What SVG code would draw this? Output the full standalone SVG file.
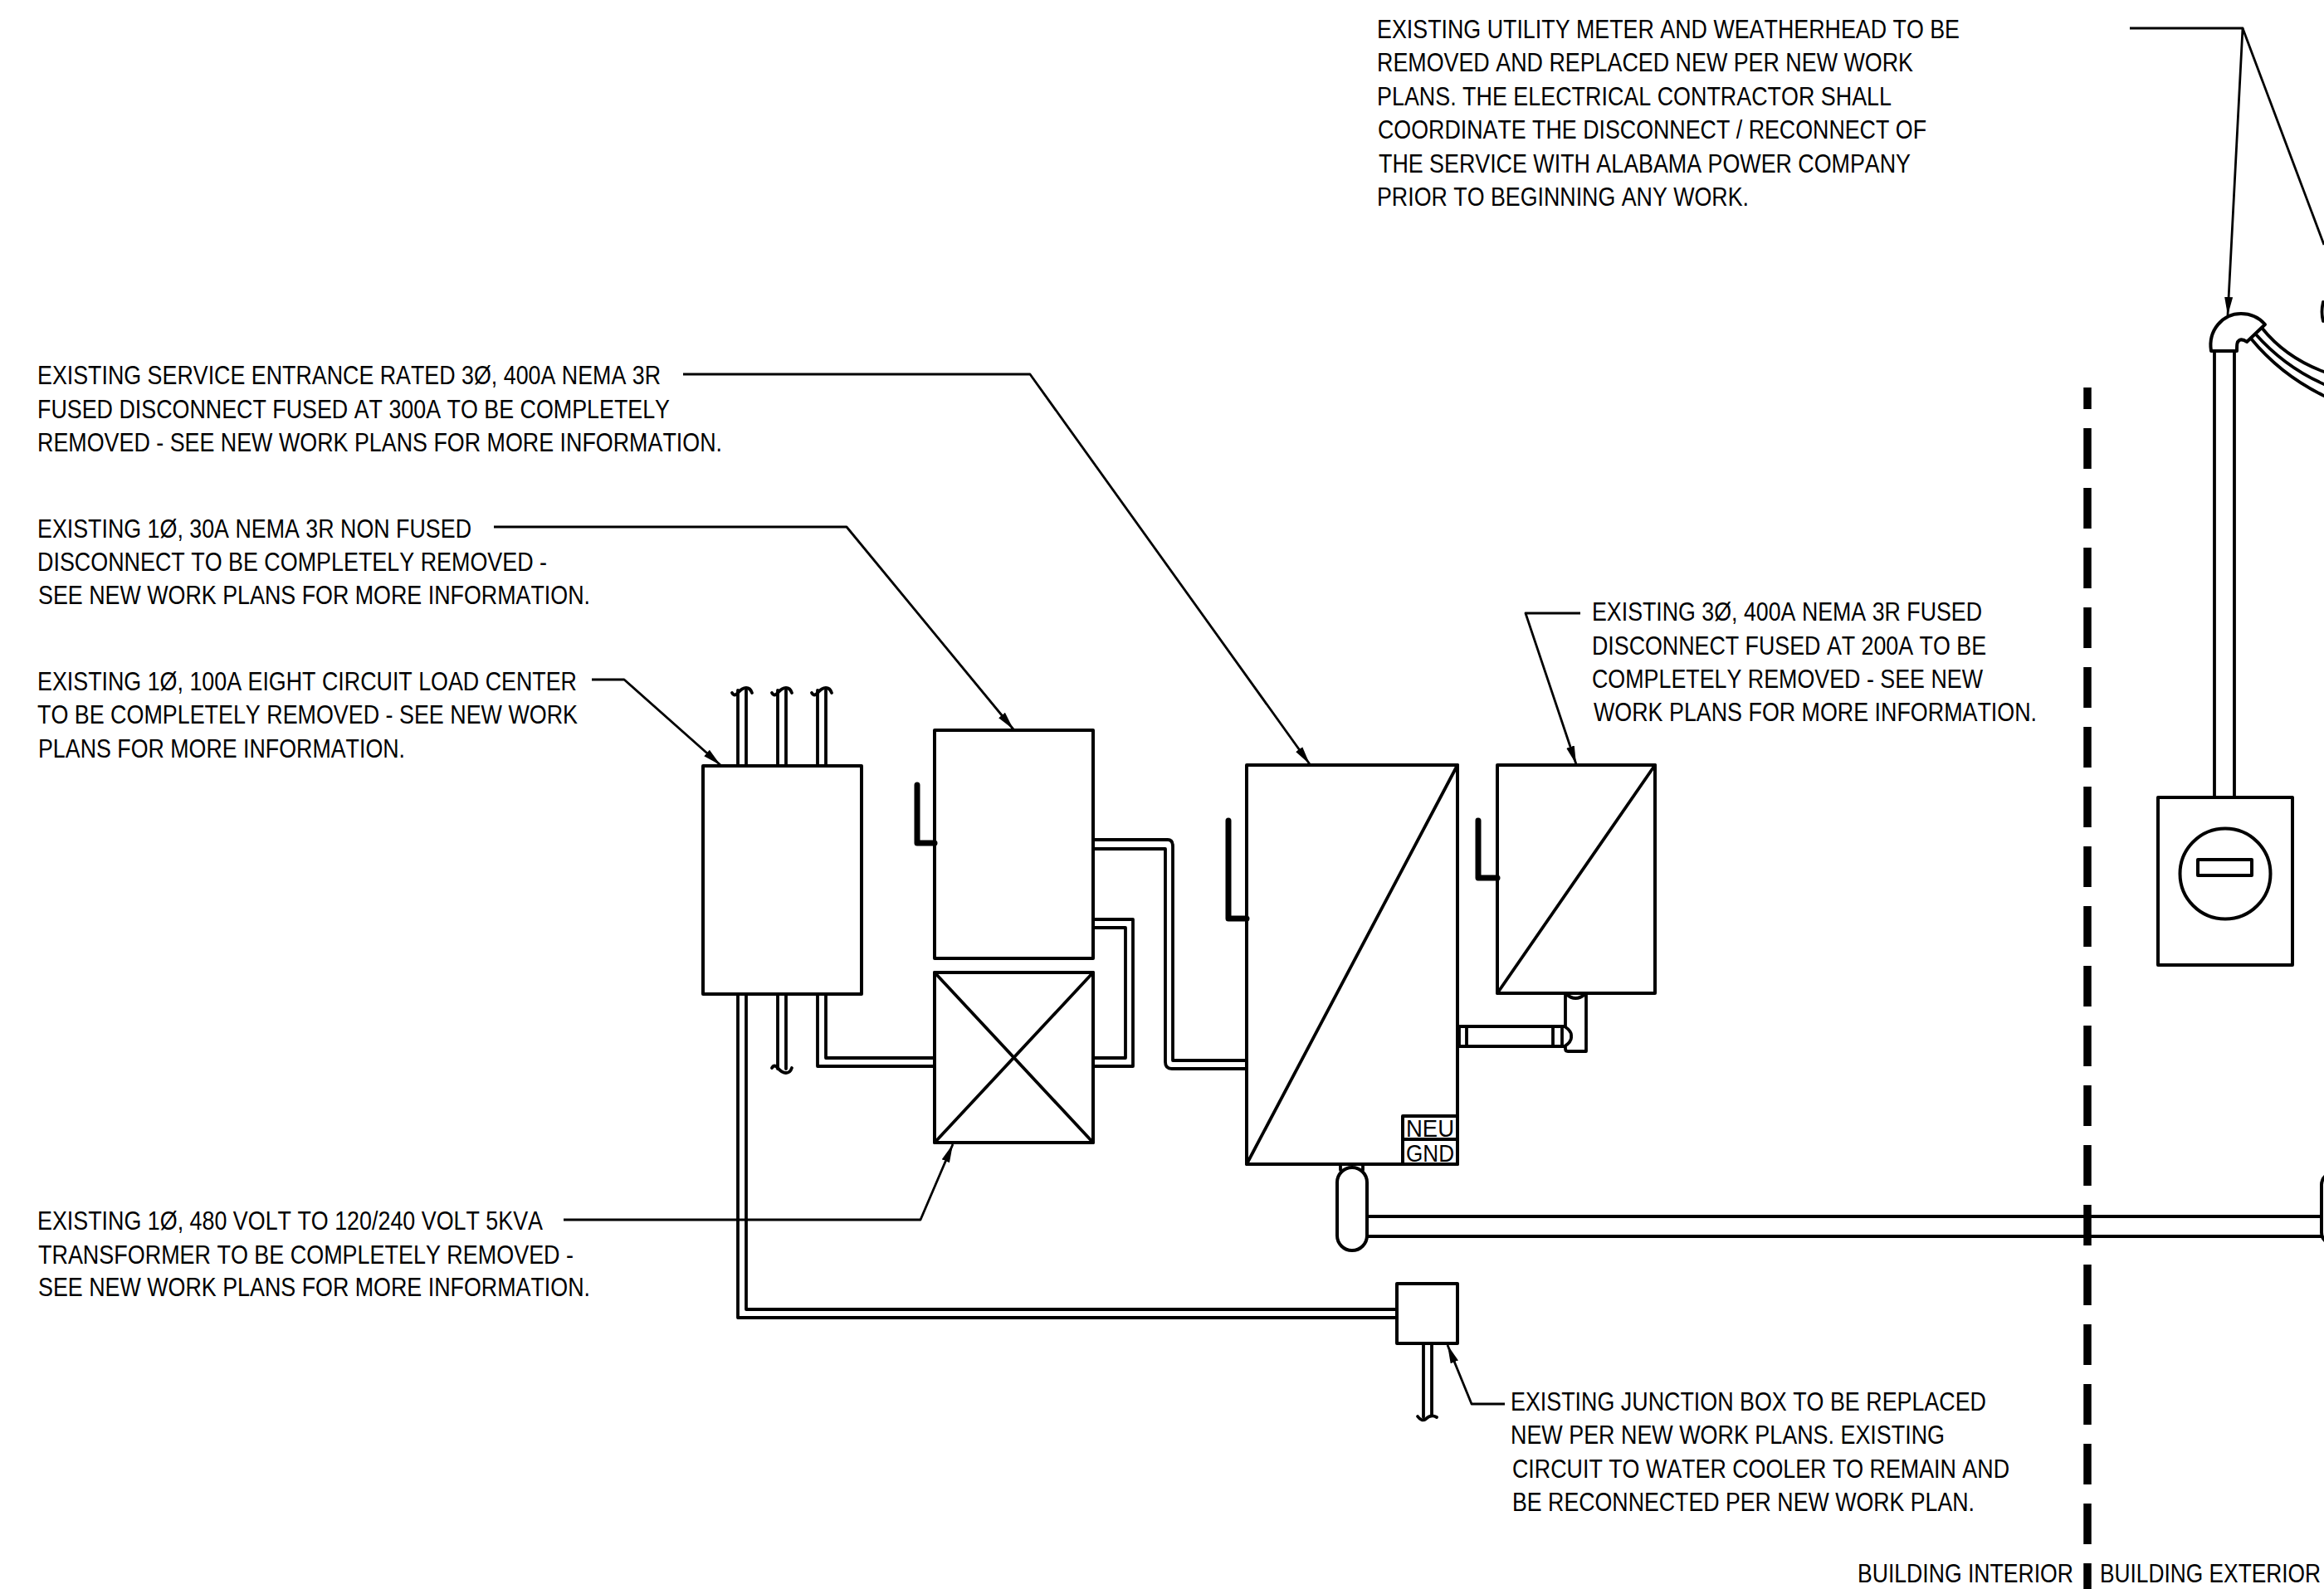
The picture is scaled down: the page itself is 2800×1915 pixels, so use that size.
<svg xmlns="http://www.w3.org/2000/svg" width="2800" height="1915" viewBox="0 0 2800 1915">
<style>
text{font-family:"Liberation Sans",Arial,sans-serif;font-size:32px;fill:#000;font-kerning:none}
.n{font-size:29px}
.b,.c,.l,.h{fill:none;stroke:#000;stroke-linejoin:round;stroke-linecap:round}
.b{stroke-width:4;fill:#fff}
.c{stroke-width:3.8}
.l{stroke-width:2.8;stroke-linecap:butt}
.h{stroke-width:7}
.a{marker-end:url(#arr)}
</style>
<defs>
<marker id="arr" markerUnits="userSpaceOnUse" markerWidth="26" markerHeight="12" refX="22" refY="6" orient="auto"><path d="M0,1L22,6L0,11Z" fill="#000"/></marker>
</defs>
<rect width="2800" height="1915" fill="#fff"/>
<g id="connectors">
<path class="l a" d="M823,451H1241L1578,921"/>
<path class="l a" d="M595,635H1020L1221,879"/>
<path class="l a" d="M713,819H752L868,922"/>
<path class="l a" d="M679,1470H1109L1148,1379"/>
<path class="l a" d="M1904,739H1838L1899,921"/>
<path class="l a" d="M1813,1692H1773L1744,1621"/>
<path class="l a" d="M2566,34H2702L2684,380"/>
<path class="l" d="M2702,34L2800,295"/>
<g id="conduits">
<path class="c" d="M889,923V832M899,923V832M937,923V832M947,923V832M985,923V832M995,923V832"/>
<path class="c" d="M882,835Q885,840 889,835Q894,829 899,829Q904,829 906,835M930,835Q933,840 937,835Q942,829 947,829Q952,829 954,835M978,835Q981,840 985,835Q990,829 995,829Q1000,829 1002,835"/>
<path class="c" d="M889,1198V1588H1683M899,1198V1578H1683"/>
<path class="c" d="M937,1198V1288M947,1198V1288"/>
<path class="c" d="M930,1287Q933,1282 937,1287Q942,1293 947,1293Q952,1293 954,1287"/>
<path class="c" d="M985,1198V1285H1126M995,1198V1275H1126"/>
<path class="c" d="M1317,1275H1356V1118H1317M1317,1285H1365V1108H1317"/>
<path class="c" d="M1317,1012H1407Q1413,1012 1413,1020V1278H1502M1317,1023H1404V1280Q1404,1288 1412,1288H1502"/>
<path class="c" d="M1715,1619V1708M1725,1619V1706"/>
<path class="c" d="M1708,1707Q1713,1714 1718,1710Q1724,1704 1731,1708"/>
<path class="c" d="M1756,1237H1885M1756,1261H1885"/>
<path class="c" d="M1646,1466H2800M1646,1490H2800"/>
<path class="c" d="M2668,423V960M2692,423V960"/>
<path class="c" d="M2725,395C2745,420 2770,437 2800,448M2717,402C2740,428 2768,449 2800,463M2712,408C2735,436 2765,460 2800,477"/>
</g>
</g>
<g id="wall"><path d="M2515,467V1915" fill="none" stroke="#000" stroke-width="9.5" stroke-dasharray="49 23" stroke-dashoffset="23"/></g>
<g id="load-center"><rect class="b" x="847" y="923" width="191" height="275"/></g>
<g id="disconnect-30a"><rect class="b" x="1126" y="880" width="191" height="275"/><path class="h" d="M1105,946V1016H1126"/></g>
<g id="transformer"><rect class="b" x="1126" y="1172" width="191" height="205"/><path class="c" d="M1126,1172L1317,1377M1317,1172L1126,1377"/></g>
<g id="disconnect-300a"><rect class="b" x="1502" y="922" width="254" height="481"/><path class="c" d="M1756,922L1502,1403"/><path class="h" d="M1480,989V1107H1502"/>
<rect class="b" x="1690" y="1345" width="66" height="28"/><rect class="b" x="1690" y="1373" width="66" height="30"/>
<text class="n" x="1694" y="1370" textLength="58" lengthAdjust="spacingAndGlyphs">NEU</text><text class="n" x="1694" y="1400" textLength="58" lengthAdjust="spacingAndGlyphs">GND</text></g>
<g id="disconnect-200a"><rect class="b" x="1804" y="922" width="190" height="275"/><path class="c" d="M1994,922L1804,1197"/><path class="h" d="M1781,989V1058H1804"/></g>
<g id="elbow-upper"><path class="c" d="M1886,1197V1237M1886,1261V1264Q1886,1267 1889,1267H1911V1197M1887,1198Q1898,1208 1910,1198M1885,1237Q1894,1243 1893,1249Q1894,1255 1885,1261M1758,1237V1261M1767,1237V1261M1871,1237V1261M1882,1237V1261"/></g>
<g id="elbow-lower"><path class="c" d="M1615,1403V1410M1642,1403V1410"/><rect class="b" x="1611" y="1407" width="36" height="100" rx="18"/></g>
<g id="elbow-exterior"><rect class="b" x="2797" y="1413" width="40" height="87" rx="15"/></g>
<g id="junction-box"><rect class="b" x="1683" y="1547" width="73" height="72"/></g>
<g id="weatherhead"><path class="c" style="fill:#fff;stroke-width:4" d="M2664,423C2660,398 2678,378 2700,378C2712,378 2722,383 2729,391L2707,412C2703,409 2700,409 2698,410C2695,412 2695,415 2695,423Z"/></g>
<g id="meter"><rect class="b" x="2600" y="961" width="162" height="202"/><circle class="b" cx="2681" cy="1053" r="54.5"/><rect class="b" x="2648" y="1036" width="65" height="19"/></g>
<path class="c" d="M2799,364Q2796,376 2799,387"/>
<g id="note-meter">
<text x="1659" y="46" textLength="702" lengthAdjust="spacingAndGlyphs">EXISTING UTILITY METER AND WEATHERHEAD TO BE</text>
<text x="1659" y="86" textLength="646" lengthAdjust="spacingAndGlyphs">REMOVED AND REPLACED NEW PER NEW WORK</text>
<text x="1659" y="127" textLength="620" lengthAdjust="spacingAndGlyphs">PLANS. THE ELECTRICAL CONTRACTOR SHALL</text>
<text x="1660" y="167" textLength="661" lengthAdjust="spacingAndGlyphs">COORDINATE THE DISCONNECT / RECONNECT OF</text>
<text x="1661" y="208" textLength="641" lengthAdjust="spacingAndGlyphs">THE SERVICE WITH ALABAMA POWER COMPANY</text>
<text x="1659" y="248" textLength="448" lengthAdjust="spacingAndGlyphs">PRIOR TO BEGINNING ANY WORK.</text>
</g>
<g id="note-service">
<text x="45" y="463" textLength="751" lengthAdjust="spacingAndGlyphs">EXISTING SERVICE ENTRANCE RATED 3Ø, 400A NEMA 3R</text>
<text x="45" y="504" textLength="762" lengthAdjust="spacingAndGlyphs">FUSED DISCONNECT FUSED AT 300A TO BE COMPLETELY</text>
<text x="45" y="544" textLength="825" lengthAdjust="spacingAndGlyphs">REMOVED - SEE NEW WORK PLANS FOR MORE INFORMATION.</text>
</g>
<g id="note-30a">
<text x="45" y="648" textLength="523" lengthAdjust="spacingAndGlyphs">EXISTING 1Ø, 30A NEMA 3R NON FUSED</text>
<text x="45" y="688" textLength="614" lengthAdjust="spacingAndGlyphs">DISCONNECT TO BE COMPLETELY REMOVED -</text>
<text x="46" y="728" textLength="665" lengthAdjust="spacingAndGlyphs">SEE NEW WORK PLANS FOR MORE INFORMATION.</text>
</g>
<g id="note-load-center">
<text x="45" y="832" textLength="650" lengthAdjust="spacingAndGlyphs">EXISTING 1Ø, 100A EIGHT CIRCUIT LOAD CENTER</text>
<text x="45" y="872" textLength="651" lengthAdjust="spacingAndGlyphs">TO BE COMPLETELY REMOVED - SEE NEW WORK</text>
<text x="46" y="913" textLength="442" lengthAdjust="spacingAndGlyphs">PLANS FOR MORE INFORMATION.</text>
</g>
<g id="note-transformer">
<text x="45" y="1482" textLength="609" lengthAdjust="spacingAndGlyphs">EXISTING 1Ø, 480 VOLT TO 120/240 VOLT 5KVA</text>
<text x="46" y="1523" textLength="645" lengthAdjust="spacingAndGlyphs">TRANSFORMER TO BE COMPLETELY REMOVED -</text>
<text x="46" y="1562" textLength="665" lengthAdjust="spacingAndGlyphs">SEE NEW WORK PLANS FOR MORE INFORMATION.</text>
</g>
<g id="note-200a">
<text x="1918" y="748" textLength="470" lengthAdjust="spacingAndGlyphs">EXISTING 3Ø, 400A NEMA 3R FUSED</text>
<text x="1918" y="789" textLength="475" lengthAdjust="spacingAndGlyphs">DISCONNECT FUSED AT 200A TO BE</text>
<text x="1918" y="829" textLength="471" lengthAdjust="spacingAndGlyphs">COMPLETELY REMOVED - SEE NEW</text>
<text x="1920" y="869" textLength="534" lengthAdjust="spacingAndGlyphs">WORK PLANS FOR MORE INFORMATION.</text>
</g>
<g id="note-junction">
<text x="1820" y="1700" textLength="573" lengthAdjust="spacingAndGlyphs">EXISTING JUNCTION BOX TO BE REPLACED</text>
<text x="1820" y="1740" textLength="523" lengthAdjust="spacingAndGlyphs">NEW PER NEW WORK PLANS. EXISTING</text>
<text x="1822" y="1781" textLength="599" lengthAdjust="spacingAndGlyphs">CIRCUIT TO WATER COOLER TO REMAIN AND</text>
<text x="1822" y="1821" textLength="557" lengthAdjust="spacingAndGlyphs">BE RECONNECTED PER NEW WORK PLAN.</text>
</g>
<g id="labels">
<text x="2238" y="1907" textLength="260" lengthAdjust="spacingAndGlyphs">BUILDING INTERIOR</text>
<text x="2530" y="1907" textLength="266" lengthAdjust="spacingAndGlyphs">BUILDING EXTERIOR</text>
</g>
</svg>
